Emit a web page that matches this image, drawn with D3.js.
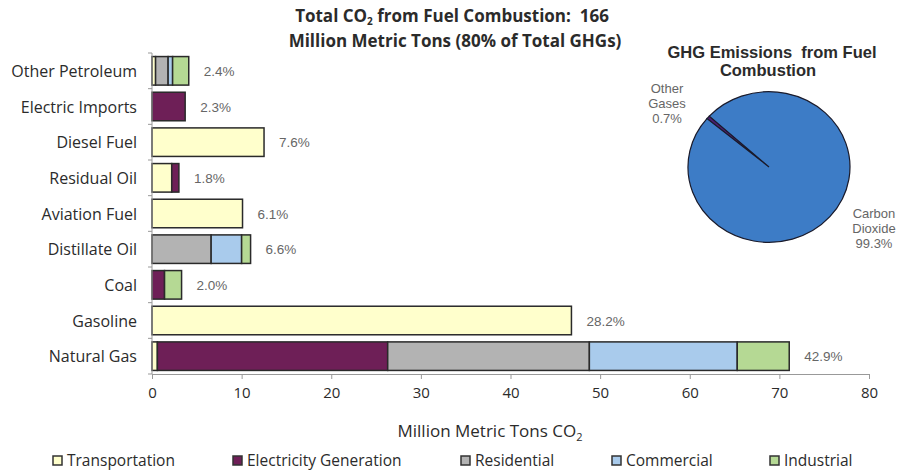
<!DOCTYPE html>
<html><head><meta charset="utf-8">
<script src="https://cdn.jsdelivr.net/npm/d3@7"></script>
<style>
body{margin:0;background:#fff;}
svg{display:block;}
text{white-space:pre;}
</style></head>
<body>
<svg id="c" width="897" height="470"></svg>
<script>
// ---- data ----
const categories = ["Other Petroleum","Electric Imports","Diesel Fuel","Residual Oil","Aviation Fuel","Distillate Oil","Coal","Gasoline","Natural Gas"];
const transportation = [0.4, 0, 12.5, 2.2, 10.1, 0, 0, 46.8, 0.6];
const electricity    = [0, 3.7, 0, 0.8, 0, 0, 1.4, 0, 25.7];
const residential    = [1.4, 0, 0, 0, 0, 6.6, 0, 0, 22.5];
const commercial     = [0.5, 0, 0, 0, 0, 3.4, 0, 0, 16.5];
const industrial     = [1.8, 0, 0, 0, 0, 1.0, 1.9, 0, 5.8];
const shareLabels = ["2.4%","2.3%","7.6%","1.8%","6.1%","6.6%","2.0%","28.2%","42.9%"];
const seriesNames = ["Transportation","Electricity Generation","Residential","Commercial","Industrial"];
const xTicks = [0,10,20,30,40,50,60,70,80];
const pieLabels = ["Other Gases","Carbon Dioxide"];
const pieValues = [0.7, 99.3];

// ---- styles ----
const colors = ["#FFFFCC","#6E1F57","#B3B3B3","#A9CBEC","#B5D994"];
const svg = d3.select("#c");
const catFont = "'Open Sans', sans-serif";
const arialFont = "'Liberation Sans', Arial, sans-serif";
const ink = "#2b2b2b";

const x = d3.scaleLinear().domain([0,80]).range([152,869]);
const y = d3.scaleBand().domain(categories).range([53,374]).paddingInner(0.2).paddingOuter(0.1);

// table for stacking
const seriesArrays = [transportation, electricity, residential, commercial, industrial];
const table = categories.map((c,i)=>{ const o={cat:c}; seriesNames.forEach((s,j)=>o[s]=seriesArrays[j][i]); return o;});
const stacked = d3.stack().keys(seriesNames)(table);

// bars
stacked.forEach((layer,j)=>{
  svg.append("g").selectAll("rect").data(layer.filter(d=>d[1]-d[0]>0)).join("rect")
    .attr("x",d=>x(d[0])).attr("y",d=>y(d.data.cat))
    .attr("width",d=>x(d[1])-x(d[0])).attr("height",y.bandwidth())
    .attr("fill",colors[j]).attr("stroke","#2a2a2a").attr("stroke-width",1.5);
});

// share labels
svg.append("g").selectAll("text").data(categories).join("text")
  .attr("x",(c,i)=>x(d3.sum(seriesArrays,a=>a[i]))+15)
  .attr("y",c=>y(c)+y.bandwidth()/2+5)
  .attr("font-family",arialFont).attr("font-size",13.5)
  .attr("fill","#666").text((c,i)=>shareLabels[i]);

// category axis
const yAxis = svg.append("g").attr("transform","translate(152,0)");
yAxis.append("line").attr("y1",y.range()[0]).attr("y2",y.range()[1]).attr("stroke","#999");
yAxis.selectAll("line.tk").data(d3.range(categories.length+1)).join("line").attr("class","tk")
  .attr("x1",-4).attr("x2",0)
  .attr("y1",i=>y.range()[0]+i*y.step()).attr("y2",i=>y.range()[0]+i*y.step()).attr("stroke","#999");
yAxis.selectAll("text").data(categories).join("text")
  .attr("x",-15).attr("y",c=>y(c)+y.bandwidth()/2+6)
  .attr("text-anchor","end").attr("font-family",catFont).attr("font-size",16).attr("fill",ink)
  .text(c=>c);

// x axis
const xAxis = svg.append("g").attr("transform","translate(0,374)")
  .call(d3.axisBottom(x).tickValues(xTicks).tickSize(5).tickPadding(8).tickFormat(d3.format("d")));
xAxis.select(".domain").attr("stroke","#999");
xAxis.selectAll(".tick line").attr("stroke","#999");
xAxis.selectAll("text").attr("font-family",catFont).attr("font-size",15).attr("fill",ink);

// axis title
const at = svg.append("text").attr("x",490).attr("y",437).attr("text-anchor","middle")
  .attr("font-family",catFont).attr("font-size",17).attr("fill",ink);
at.append("tspan").text("Million Metric Tons CO");
at.append("tspan").attr("font-size",11).attr("dy",4).text("2");

// main title
const t1 = svg.append("text").attr("x",452).attr("y",22).attr("text-anchor","middle")
  .attr("font-family",catFont).attr("font-weight","bold").attr("font-size",17).attr("fill",ink);
t1.append("tspan").text("Total CO");
t1.append("tspan").attr("font-size",10).attr("dy",3).text("2");
t1.append("tspan").attr("dy",-3).text(" from Fuel Combustion:  166");
svg.append("text").attr("x",455).attr("y",47).attr("text-anchor","middle")
  .attr("font-family",catFont).attr("font-weight","bold").attr("font-size",17).attr("fill",ink)
  .text("Million Metric Tons (80% of Total GHGs)");

// legend
const legX = [53,233,461,612,770];
const leg = svg.append("g").selectAll("g").data(seriesNames).join("g")
  .attr("transform",(d,i)=>`translate(${legX[i]},456)`);
leg.append("rect").attr("width",9).attr("height",9).attr("fill",(d,i)=>colors[i])
  .attr("stroke","#333").attr("stroke-width",1.5);
leg.append("text").attr("x",14).attr("y",10).attr("font-family",catFont).attr("font-size",15.5)
  .attr("fill",ink).text(d=>d);

// pie
const pieG = svg.append("g").attr("transform","translate(769,167) scale(1,0.93)");
const pie = d3.pie().sort(null).startAngle(-50*Math.PI/180).endAngle(310*Math.PI/180);
const arc = d3.arc().innerRadius(0).outerRadius(81);
pieG.selectAll("path").data(pie(pieValues)).join("path")
  .attr("d",arc).attr("fill",(d,i)=>i===0?"#4A1E6E":"#3D7CC6")
  .attr("stroke","#1a1a2a").attr("stroke-width",1.2);

svg.append("text").attr("x",772).attr("y",58).attr("text-anchor","middle")
  .attr("font-family",arialFont).attr("font-weight","bold").attr("font-size",16.5).attr("fill",ink)
  .text("GHG Emissions  from Fuel");
svg.append("text").attr("x",768).attr("y",76).attr("text-anchor","middle")
  .attr("font-family",arialFont).attr("font-weight","bold").attr("font-size",16.5).attr("fill",ink)
  .text("Combustion");

const pl = [[667,93],[874,218]];
pieLabels.forEach((lab,i)=>{
  const words = lab.split(" ");
  const tx = svg.append("text").attr("text-anchor","middle")
    .attr("font-family",arialFont).attr("font-size",13).attr("fill","#666");
  words.concat([pieValues[i].toFixed(1)+"%"]).forEach((w,k)=>{
    tx.append("tspan").attr("x",pl[i][0]).attr("y",pl[i][1]+k*15).text(w);
  });
});
</script>
</body></html>
